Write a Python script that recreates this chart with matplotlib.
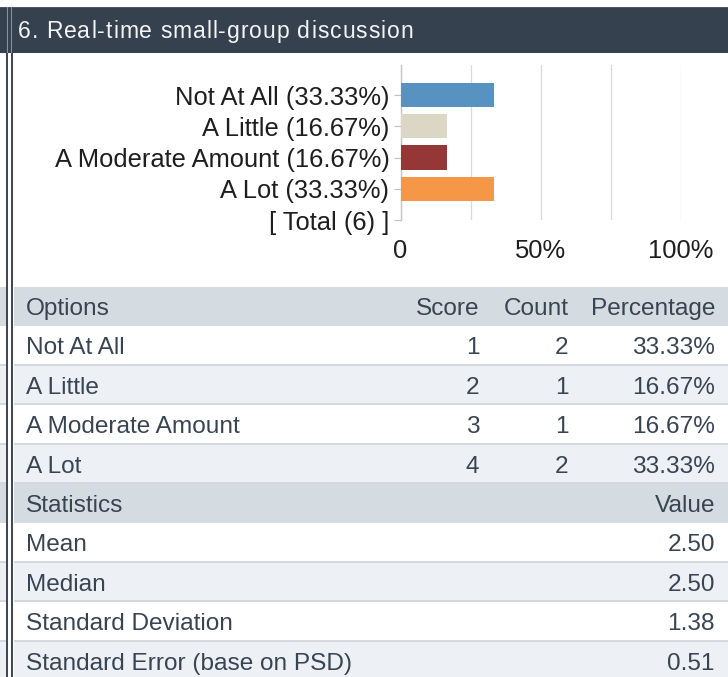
import matplotlib

matplotlib.use("Agg")

import matplotlib.pyplot as plt
from matplotlib.patches import Rectangle


title = "6. Real-time small-group discussion"

options = ["Not At All", "A Little", "A Moderate Amount", "A Lot"]
scores = [1, 2, 3, 4]
counts = [2, 1, 1, 2]
percentages = [33.33, 16.67, 16.67, 33.33]
total = 6

stat_names = ["Mean", "Median", "Standard Deviation", "Standard Error (base on PSD)"]
stat_values = [2.50, 2.50, 1.38, 0.51]

bar_colors = ["#5792c0", "#dbd7c4", "#953736", "#f69647"]

HEADER_BG = "#36414f"
TABLE_HEAD_BG = "#d5dce1"
ROW_ALT_BG = "#edf1f5"
ROW_LINE = "#d3d9de"
TEXT_DARK = "#394453"

plt.rcParams["font.family"] = ["Liberation Sans", "DejaVu Sans"]

W, H = 728, 677
fig = plt.figure(figsize=(W / 100, H / 100), dpi=100)

# full-figure layer in pixel coordinates for header and table
bg = fig.add_axes([0, 0, 1, 1])
bg.set_xlim(0, W)
bg.set_ylim(H, 0)
bg.axis("off")

renderer = fig.canvas.get_renderer()


def spaced_text(ax, x, y, s, spacing, **kw):
    ref = ax.text(0, 0, "HH", **kw)
    w_hh = ref.get_window_extent(renderer).width
    ref.remove()
    for ch in s:
        probe = ax.text(0, 0, "H" + ch + "H", **kw)
        w = probe.get_window_extent(renderer).width - w_hh
        probe.remove()
        ax.text(x, y, ch, **kw)
        x += w + spacing


# header bar
bg.add_patch(Rectangle((0, 7), W, 46, color=HEADER_BG, lw=0))
bg.add_patch(Rectangle((0, 7), W, 1, color="#4b5664", lw=0))
for lx in [7, 10.5]:
    bg.add_patch(Rectangle((lx, 7), 1, 46, color="#8a939d", lw=0))
spaced_text(bg, 18, 38, title, 0.95, fontsize=16.5, color="#f4f4f4",
            va="baseline", ha="left")

# table rows
row_top = 287
row_h = 39.4
rows = [("head", ["Options", "Score", "Count", "Percentage"])]
for i in range(len(options)):
    rows.append(("body", [options[i], str(scores[i]), str(counts[i]),
                          f"{percentages[i]:.2f}%"]))
rows.append(("head", ["Statistics", "", "", "Value"]))
for i in range(len(stat_names)):
    rows.append(("body", [stat_names[i], "", "", f"{stat_values[i]:.2f}"]))

col_right = [None, 479.5, 568.5, 715]
body_idx = 0
for r, (kind, cells) in enumerate(rows):
    y0 = row_top + r * row_h
    if kind == "head":
        color = TABLE_HEAD_BG
        body_idx = 0
    else:
        color = "white" if body_idx % 2 == 0 else ROW_ALT_BG
        body_idx += 1
    bg.add_patch(Rectangle((0, y0), W, row_h, color=color, lw=0))
    if kind == "body":
        bg.add_patch(Rectangle((0, y0 + row_h - 2), W, 2, color=ROW_LINE, lw=0))
    base = y0 + 28
    bg.text(26, base, cells[0], fontsize=17.6, color=TEXT_DARK, va="baseline", ha="left")
    for c in range(1, 4):
        if cells[c]:
            bg.text(col_right[c], base, cells[c], fontsize=17.6, color=TEXT_DARK,
                    va="baseline", ha="right")

# double divider on the left
bg.add_patch(Rectangle((8, 53), 3, H - 53, color="white", lw=0))
for lx in [6.3, 11]:
    bg.add_patch(Rectangle((lx, 53), 1.9, H - 53, color="#3e4a5a", lw=0))
bg.add_patch(Rectangle((12.9, 53), 1.2, H - 53, color="white", lw=0))

# bar chart
x0, x1 = 400.5, 681
y_top, y_bot = 65, 220
ax = fig.add_axes([x0 / W, 1 - y_bot / H, (x1 - x0) / W, (y_bot - y_top) / H])

positions = list(range(len(options)))
ax.barh(positions, percentages, height=0.77, color=bar_colors, zorder=3)

labels = [f"{o} ({p:.2f}%)" for o, p in zip(options, percentages)]
labels.append(f"[ Total ({total}) ]")
ax.set_yticks(list(range(len(labels))))
ax.set_yticklabels(labels)
ax.set_ylim(len(options), -0.96)
ax.set_xlim(0, 100)

ax.set_xticks([0, 50, 100])
ax.set_xticklabels(["0", "50%", "100%"])
ax.set_xticks([25, 75], minor=True)
ax.grid(axis="x", which="both", color="#d9d9d9", lw=0.9, zorder=0)

for side in ["top", "right", "bottom"]:
    ax.spines[side].set_visible(False)
ax.spines["left"].set_color("#c6c6c6")
ax.spines["left"].set_linewidth(1.0)

ax.tick_params(axis="y", length=5, color="#c0c0c0", pad=3, labelsize=18.4,
               labelcolor="#1e1e1e")
ax.tick_params(axis="x", which="both", length=0, pad=14, labelsize=18.4,
               labelcolor="#1e1e1e")

fig.savefig("out.png", dpi=100)
